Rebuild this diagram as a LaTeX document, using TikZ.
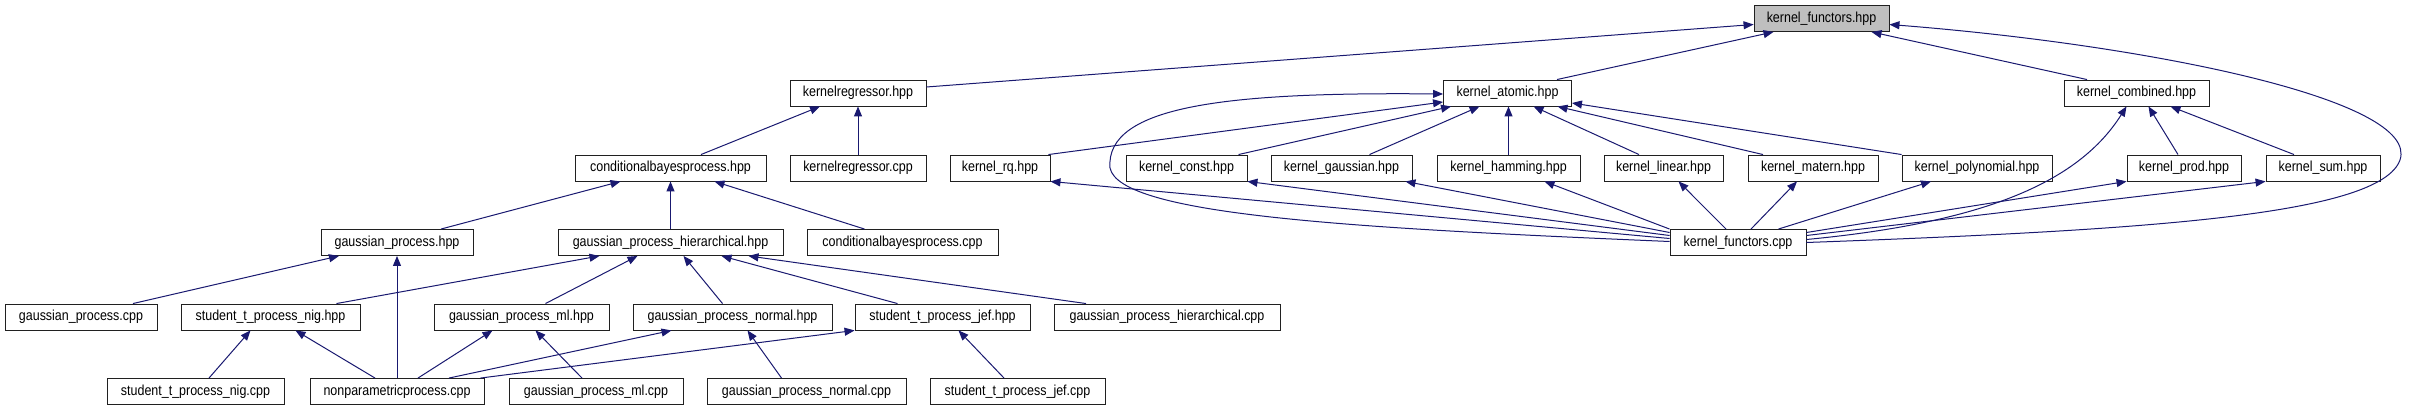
\documentclass[tikz,border=0pt]{standalone}
\usepackage{fontspec}
\setmainfont{Liberation Sans}[FakeStretch=0.86]
\usetikzlibrary{arrows.meta,calc}
\definecolor{edgecol}{HTML}{191970}
\definecolor{rootfill}{HTML}{BFBFBF}
\definecolor{boxline}{HTML}{202020}
\begin{document}
\begin{tikzpicture}[x=1pt,y=-1pt,
  box/.style={draw=boxline,line width=0.9pt,fill=white,minimum height=26pt,inner sep=0pt,font=\fontsize{14.5}{16}\selectfont,text=black},
  rootbox/.style={box,fill=rootfill},
  edge/.style={draw=edgecol,line width=1pt,-{Triangle[length=10pt,width=8pt]}}]
\useasboundingbox[fill=white] (0,0) rectangle (2413,411);
% row 0
\node[rootbox,minimum width=135pt] (kfh) at (1821.5,18.5) {kernel\_functors.hpp};
% row 1
\node[box,minimum width=136pt] (krh) at (858,93) {kernelregressor.hpp};
\node[box,minimum width=128pt] (kah) at (1507.5,93) {kernel\_atomic.hpp};
\node[box,minimum width=145pt] (kch) at (2136.5,93) {kernel\_combined.hpp};
% row 2
\node[box,minimum width=191pt] (cbh) at (670.5,168) {conditionalbayesprocess.hpp};
\node[box,minimum width=136pt] (krc) at (858,168) {kernelregressor.cpp};
\node[box,minimum width=100pt] (rq) at (1000,168) {kernel\_rq.hpp};
\node[box,minimum width=121pt] (kconst) at (1186.5,168) {kernel\_const.hpp};
\node[box,minimum width=141pt] (kgauss) at (1341.5,168) {kernel\_gaussian.hpp};
\node[box,minimum width=143pt] (kham) at (1508.5,168) {kernel\_hamming.hpp};
\node[box,minimum width=119pt] (klin) at (1663.5,168) {kernel\_linear.hpp};
\node[box,minimum width=130pt] (kmat) at (1813,168) {kernel\_matern.hpp};
\node[box,minimum width=150pt] (kpoly) at (1977,168) {kernel\_polynomial.hpp};
\node[box,minimum width=114pt] (kprod) at (2184,168) {kernel\_prod.hpp};
\node[box,minimum width=114pt] (ksum) at (2323,168) {kernel\_sum.hpp};
% row 3
\node[box,minimum width=152pt] (gph) at (397,242.5) {gaussian\_process.hpp};
\node[box,minimum width=225pt] (gphh) at (670.5,242.5) {gaussian\_process\_hierarchical.hpp};
\node[box,minimum width=191pt] (cbc) at (902.5,242.5) {conditionalbayesprocess.cpp};
\node[box,minimum width=136pt] (kfc) at (1738,242.5) {kernel\_functors.cpp};
% row 4
\node[box,minimum width=152pt] (gpc) at (81,317) {gaussian\_process.cpp};
\node[box,minimum width=179pt] (nigh) at (270.5,317) {student\_t\_process\_nig.hpp};
\node[box,minimum width=175pt] (mlh) at (521.5,317) {gaussian\_process\_ml.hpp};
\node[box,minimum width=199pt] (nh) at (732.5,317) {gaussian\_process\_normal.hpp};
\node[box,minimum width=175pt] (jh) at (942.5,317) {student\_t\_process\_jef.hpp};
\node[box,minimum width=226pt] (gphc) at (1167,317) {gaussian\_process\_hierarchical.cpp};
% row 5
\node[box,minimum width=177pt] (nigc) at (195.5,391.5) {student\_t\_process\_nig.cpp};
\node[box,minimum width=174pt] (npp) at (397,391.5) {nonparametricprocess.cpp};
\node[box,minimum width=174pt] (mlc) at (596,391.5) {gaussian\_process\_ml.cpp};
\node[box,minimum width=199pt] (nc) at (806.5,391.5) {gaussian\_process\_normal.cpp};
\node[box,minimum width=175pt] (jc) at (1017.5,391.5) {student\_t\_process\_jef.cpp};

% edges into kernel_functors.hpp
\draw[edge] ($(krh.east)+(0,-6)$) -- ($(kfh.west)+(0,6)$);
\draw[edge] ($(kah.north)+(49.5,0)$) -- ($(kfh.south)+(-48,0)$);
\draw[edge] ($(kch.north)+(-49.5,0)$) -- ($(kfh.south)+(50,0)$);
\draw[edge] (kfc.east) .. controls (2150,230) and (2380,215) .. (2400,160)
  .. controls (2420,100) and (2150,45) .. ($(kfh.east)+(0,6)$);
% into kernelregressor.hpp
\draw[edge] ($(cbh.north)+(30.5,0)$) -- ($(krh.south)+(-38,0)$);
\draw[edge] (krc.north) -- (krh.south);
% into kernel_atomic.hpp
\draw[edge] ($(kfc.west)+(0,-1)$) .. controls (1350,228) and (1120,215) .. (1110,168)
  .. controls (1105,105) and (1230,92) .. ($(kah.west)+(0,1)$);
\draw[edge] ($(rq.north east)+(-2,0)$) -- ($(kah.west)+(0,9)$);
\draw[edge] ($(kconst.north)+(52,0)$) -- ($(kah.south west)+(8,0)$);
\draw[edge] ($(kgauss.north)+(28,0)$) -- ($(kah.south)+(-28,0)$);
\draw[edge] (kham.north) -- (kham.north |- kah.south);
\draw[edge] ($(klin.north)+(-24.5,0)$) -- ($(kah.south)+(26,0)$);
\draw[edge] ($(kmat.north)+(-50,0)$) -- ($(kah.south)+(50,0)$);
\draw[edge] (kpoly.north west) -- ($(kah.east)+(0,10)$);
% from kernel_functors.cpp
\draw[edge] ($(kfc.west)+(0,-4)$) -- (rq.south east);
\draw[edge] ($(kfc.west)+(0,-7)$) -- (kconst.south east);
\draw[edge] ($(kfc.west)+(0,-10)$) -- ($(kgauss.south east)+(-7,0)$);
\draw[edge] (kfc.north west) -- ($(kham.south)+(36,0)$);
\draw[edge] ($(kfc.north)+(-12,0)$) -- ($(klin.south)+(15,0)$);
\draw[edge] ($(kfc.north)+(13,0)$) -- ($(kmat.south)+(-16,0)$);
\draw[edge] ($(kfc.north east)+(-28,0)$) -- ($(kpoly.south)+(-46,0)$);
\draw[edge] ($(kfc.east)+(0,-10)$) -- (kprod.south west);
\draw[edge] ($(kfc.east)+(0,-7)$) -- (ksum.south west);
\draw[edge] ($(kfc.east)+(0,-3)$) .. controls (1990,222) and (2080,180) .. ($(kch.south)+(-10,0)$);
% into kernel_combined.hpp
\draw[edge] ($(kprod.north)+(-6,0)$) -- ($(kch.south)+(12,0)$);
\draw[edge] ($(ksum.north)+(-29,0)$) -- ($(kch.south)+(34,0)$);
% into conditionalbayesprocess.hpp
\draw[edge] (gphh.north) -- (cbh.south);
\draw[edge] ($(gph.north)+(44,0)$) -- ($(cbh.south)+(-50,0)$);
\draw[edge] ($(cbc.north)+(-38,0)$) -- ($(cbh.south)+(44,0)$);
% into gaussian_process.hpp
\draw[edge] ($(gpc.north)+(52,0)$) -- ($(gph.south)+(-58,0)$);
\draw[edge] (npp.north) -- (gph.south);
% into gaussian_process_hierarchical.hpp
\draw[edge] ($(nigh.north)+(66,0)$) -- ($(gphh.south)+(-71,0)$);
\draw[edge] ($(mlh.north)+(24,0)$) -- ($(gphh.south)+(-33,0)$);
\draw[edge] ($(nh.north)+(-10,0)$) -- ($(gphh.south)+(13,0)$);
\draw[edge] ($(jh.north)+(-45,0)$) -- ($(gphh.south)+(51,0)$);
\draw[edge] ($(gphc.north)+(-81,0)$) -- ($(gphh.south east)+(-35,0)$);
% into student_t_process_nig.hpp
\draw[edge] ($(nigc.north)+(13.5,0)$) -- ($(nigh.south)+(-20,0)$);
\draw[edge] ($(npp.north)+(-22,0)$) -- ($(nigh.south)+(25,0)$);
% into gaussian_process_ml.hpp
\draw[edge] ($(npp.north)+(21,0)$) -- ($(mlh.south)+(-29,0)$);
\draw[edge] ($(mlc.north)+(-14,0)$) -- ($(mlh.south)+(14,0)$);
% into gaussian_process_normal.hpp
\draw[edge] ($(npp.north)+(52,0)$) -- ($(nh.south)+(-61,0)$);
\draw[edge] ($(nc.north)+(-25,0)$) -- ($(nh.south)+(15,0)$);
% into student_t_process_jef.hpp
\draw[edge] ($(npp.north east)+(-4,0)$) -- (jh.south west);
\draw[edge] ($(jc.north)+(-13.5,0)$) -- ($(jh.south)+(16,0)$);
\end{tikzpicture}
\end{document}
